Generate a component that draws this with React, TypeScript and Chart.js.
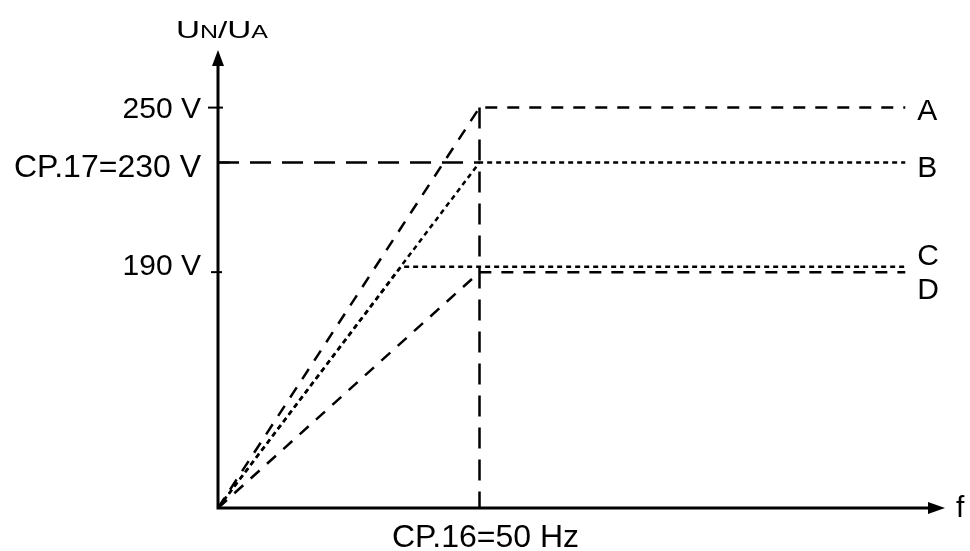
import React, { useEffect, useRef } from 'react';
import { Chart, registerables } from 'chart.js';

Chart.register(...registerables);

// ---- data ----
const SERIES_NAMES = ['A', 'B', 'C', 'D'];
const BREAK_FREQ = [50, 50, 35, 50]; // Hz where each V/f curve reaches its plateau
const PLATEAU_U = [250, 230, 192, 190]; // V plateau of each curve
const END_FREQ = 131.4; // Hz where the drawn curves end
const START_FREQ = 0;
const U_AXIS_MIN = 104; // value at the origin of the (schematic) U axis
const U_AXIS_MAX = 271;
const F_AXIS_MAX = 139;
const NOMINAL_FREQ = 50; // CP.16
const NOMINAL_U = 230; // CP.17
const Y_TICK_VALUES = [250, 230, 190];
const Y_TICK_LABELS = ['250 V', 'CP.17=230 V', '190 V'];
const X_TICK_VALUES = [50];
const X_TICK_LABELS = ['CP.16=50 Hz'];
const X_AXIS_TITLE = 'f';

const FONT = '"Liberation Sans", Arial, Helvetica, sans-serif';

const SERIES_DASH: number[][] = [
  [12, 10],
  [5, 4],
  [5, 4],
  [12, 10],
];
const SERIES_LABEL_DY = [12, 15, -2, 27];
const Y_LABEL_DY: Record<number, number> = { 250: 10, 230: 15, 190: 3 };
const Y_LABEL_SIZE: Record<number, number> = { 250: 30, 230: 32, 190: 30 };
const Y_TICK_EXT: Record<number, [number, number]> = { 250: [-10, 5], 230: [0, 12], 190: [-7, 4] };

const axesPlugin = {
  id: 'schematicAxes',
  afterDraw(chart: any) {
    const { ctx, scales } = chart;
    const xs = scales.x;
    const ys = scales.y;
    const x0 = xs.getPixelForValue(0);
    const y0 = ys.getPixelForValue(U_AXIS_MIN);
    const yTop = ys.getPixelForValue(U_AXIS_MAX);
    const xRight = xs.getPixelForValue(F_AXIS_MAX);
    ctx.save();
    ctx.strokeStyle = '#000';
    ctx.fillStyle = '#000';
    ctx.lineWidth = 3;
    ctx.setLineDash([]);
    // axes
    ctx.beginPath();
    ctx.moveTo(x0, yTop + 14);
    ctx.lineTo(x0, y0);
    ctx.lineTo(xRight - 15, y0);
    ctx.stroke();
    // arrow heads
    ctx.beginPath();
    ctx.moveTo(x0, yTop);
    ctx.lineTo(x0 - 6, yTop + 16);
    ctx.lineTo(x0 + 6, yTop + 16);
    ctx.closePath();
    ctx.fill();
    ctx.beginPath();
    ctx.moveTo(xRight, y0);
    ctx.lineTo(xRight - 17, y0 - 6);
    ctx.lineTo(xRight - 17, y0 + 6);
    ctx.closePath();
    ctx.fill();
    // y ticks and labels
    ctx.lineWidth = 2;
    ctx.textAlign = 'right';
    ctx.textBaseline = 'alphabetic';
    Y_TICK_VALUES.forEach((v, i) => {
      const py = ys.getPixelForValue(v);
      const ext = Y_TICK_EXT[v] || [-8, 4];
      ctx.beginPath();
      ctx.moveTo(x0 + ext[0], py);
      ctx.lineTo(x0 + ext[1], py);
      ctx.stroke();
      ctx.font = `${Y_LABEL_SIZE[v] ?? 30}px ${FONT}`;
      ctx.fillText(Y_TICK_LABELS[i], 201, py + (Y_LABEL_DY[v] ?? 10));
    });
    // x tick labels
    ctx.font = `32px ${FONT}`;
    ctx.textAlign = 'center';
    X_TICK_VALUES.forEach((v, i) => {
      const px = xs.getPixelForValue(v);
      ctx.fillText(X_TICK_LABELS[i], px + 6, y0 + 39);
    });
    // x axis title
    ctx.font = `30px ${FONT}`;
    ctx.textAlign = 'left';
    ctx.fillText(X_AXIS_TITLE, xRight + 11, y0 + 9);
    // series labels
    const lx = xs.getPixelForValue(END_FREQ) + 12;
    SERIES_NAMES.forEach((name, i) => {
      const py = ys.getPixelForValue(PLATEAU_U[i]);
      ctx.fillText(name, lx, py + SERIES_LABEL_DY[i]);
    });
    // y axis title U_N/U_A
    const parts: [string, number][] = [
      ['U', 24],
      ['N', 18],
      ['/', 24],
      ['U', 24],
      ['A', 18],
    ];
    let natural = 0;
    parts.forEach(([t, s]) => {
      ctx.font = `${s}px ${FONT}`;
      natural += ctx.measureText(t).width;
    });
    const targetW = 92;
    const sx = targetW / natural;
    ctx.translate(176, 38);
    ctx.scale(sx, 1);
    let cx = 0;
    parts.forEach(([t, s]) => {
      ctx.font = `${s}px ${FONT}`;
      ctx.fillText(t, cx, 0);
      cx += ctx.measureText(t).width;
    });
    ctx.restore();
  },
};

export default function App() {
  const ref = useRef<HTMLCanvasElement | null>(null);
  useEffect(() => {
    if (!ref.current) return;
    const seriesSets = SERIES_NAMES.map((name, i) => ({
      label: name,
      data: [
        { x: START_FREQ, y: U_AXIS_MIN },
        { x: BREAK_FREQ[i], y: PLATEAU_U[i] },
        { x: END_FREQ, y: PLATEAU_U[i] },
      ],
      borderColor: '#000',
      backgroundColor: '#000',
      borderWidth: 2.5,
      borderDash: SERIES_DASH[i],
      showLine: true,
      pointRadius: 0,
      fill: false,
      tension: 0,
    }));
    const guides = [
      {
        label: 'CP.17',
        data: [
          { x: 0, y: NOMINAL_U },
          { x: NOMINAL_FREQ, y: NOMINAL_U },
        ],
      },
      {
        label: 'CP.16',
        data: [
          { x: NOMINAL_FREQ, y: PLATEAU_U[0] },
          { x: NOMINAL_FREQ, y: U_AXIS_MIN },
        ],
      },
    ].map((g) => ({
      ...g,
      borderColor: '#000',
      backgroundColor: '#000',
      borderWidth: 2.5,
      borderDash: [21, 11],
      showLine: true,
      pointRadius: 0,
      fill: false,
      tension: 0,
    }));
    const chart = new Chart(ref.current, {
      type: 'scatter',
      data: { datasets: [...guides, ...seriesSets] as any },
      options: {
        responsive: false,
        animation: false,
        clip: false as any,
        layout: { padding: { left: 218, right: 25, top: 50, bottom: 43 } },
        scales: {
          x: { type: 'linear', min: 0, max: F_AXIS_MAX, display: false },
          y: { type: 'linear', min: U_AXIS_MIN, max: U_AXIS_MAX, display: false },
        },
        plugins: { legend: { display: false }, tooltip: { enabled: false } },
        events: [],
      },
      plugins: [axesPlugin],
    });
    return () => chart.destroy();
  }, []);
  return (
    <div style={{ position: 'absolute', left: 0, top: 0, width: 970, height: 551, background: '#fff' }}>
      <canvas ref={ref} width={970} height={551} style={{ width: 970, height: 551, display: 'block' }} />
    </div>
  );
}
